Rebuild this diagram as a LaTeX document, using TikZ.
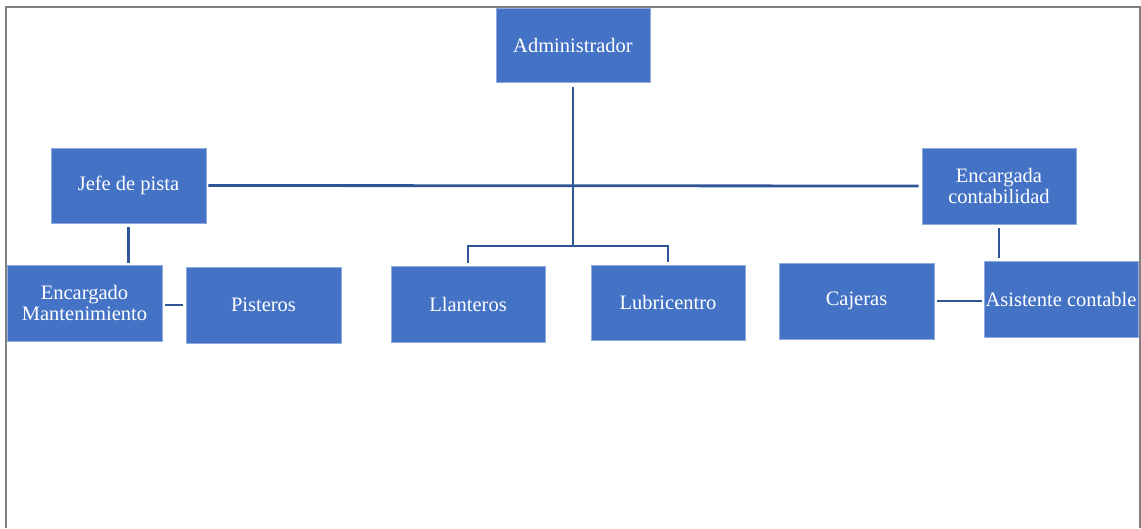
\documentclass[tikz,border=0pt]{standalone}
\usepackage{fontspec}
\setmainfont{Liberation Serif}
\definecolor{boxfill}{HTML}{4472C4}
\definecolor{boxedge}{HTML}{8FAADC}
\definecolor{connc}{HTML}{2F5597}
\definecolor{framec}{HTML}{808080}
\tikzset{
  orgbox/.style={rectangle, fill=boxfill, draw=boxedge, line width=0.6pt, inner sep=0pt,
    text=white, align=center, font=\fontsize{20.5}{21.5}\selectfont,
    minimum width=154pt, minimum height=75pt},
  conn/.style={draw=connc, line width=2.8pt},
}
\begin{document}
\begin{tikzpicture}[x=1pt,y=-1pt]
\useasboundingbox (0,0) rectangle (1141,528);
\fill[white] (0,0) rectangle (1141,528);
\draw[framec, line width=2pt] (5.5,528) -- (5.5,6.5) -- (1140,6.5) -- (1140,528);

\node[orgbox, minimum height=74pt] (adm) at (573,45) {Administrador};
\node[orgbox, minimum width=155pt] (jefe) at (128.5,185.5) {Jefe de pista};
\node[orgbox, minimum width=155pt, minimum height=76pt] (enc) at (84.5,303) {Encargado\\Mantenimiento};
\node[orgbox, minimum width=155pt, minimum height=76pt] (pist) at (263.5,305) {Pisteros};
\node[orgbox, minimum height=76pt] (llan) at (468,304) {Llanteros};
\node[orgbox] (lub) at (668,302.5) {Lubricentro};
\node[orgbox, minimum height=76pt] (ecnt) at (999,186) {Encargada\\contabilidad};
\node[orgbox, minimum width=155pt, minimum height=76pt] (caj) at (856.5,301) {Cajeras};
\node[orgbox, minimum height=76pt] (asis) at (1061,299) {Asistente contable};

\coordinate (hub) at (573,246);
\draw[conn, shorten <=5pt] (adm.south) -- (hub);
\draw[conn, shorten <=2pt, shorten >=3pt] (jefe.east) -- (ecnt.west);
\draw[conn, shorten <=3pt, shorten >=3pt] (llan.north) |- (hub) -| (lub.north);
\draw[conn, shorten <=4pt, shorten >=2pt] (jefe.south) -- (jefe.south |- enc.north);
\draw[conn, shorten <=3pt, shorten >=3pt] ([yshift=-2pt]enc.east) -- ([yshift=-2pt]enc.east -| pist.west);
\draw[conn, shorten <=4pt, shorten >=3pt] (ecnt.south) -- (ecnt.south |- asis.north);
\draw[conn, shorten <=3pt, shorten >=2pt] (caj.east) -- (caj.east -| asis.west);
\end{tikzpicture}
\end{document}
